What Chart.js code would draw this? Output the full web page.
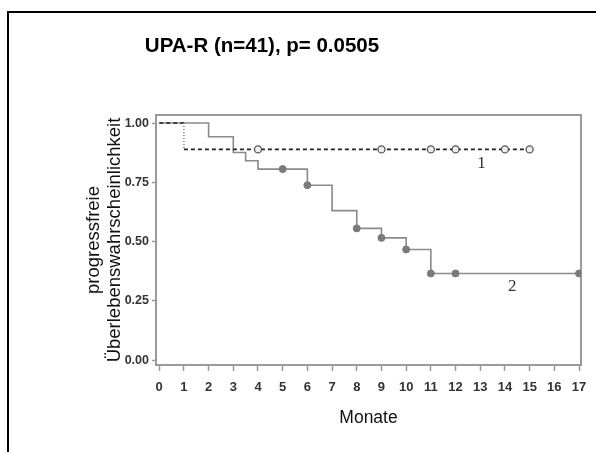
<!DOCTYPE html>
<html>
<head>
<meta charset="utf-8">
<script src="https://cdn.jsdelivr.net/npm/chart.js@4.4.1/dist/chart.umd.min.js"></script>
<style>
  html, body { margin: 0; padding: 0; background: #fff; }
  #wrap { width: 596px; height: 452px; }
</style>
</head>
<body>
<div id="wrap"><canvas id="plot"></canvas></div>
<script>
// Gruppe 1 (gestrichelt): Zeitpunkte der Stufen und Überlebensrate
const zeit1 = [0, 1, 15];
const surv1 = [1.0, 0.889, 0.889];
const zensiert1 = [4, 9, 11, 12, 14, 15];

// Gruppe 2 (durchgezogen)
const zeit2 = [0, 2, 3, 3.5, 4, 6, 7, 8, 9, 10, 11, 17];
const surv2 = [1.0, 0.942, 0.876, 0.841, 0.806, 0.738, 0.631, 0.556, 0.516, 0.467, 0.366, 0.366];
const zensiert2 = [5, 6, 8, 9, 10, 11, 12, 17];

const xTicks = [0, 1, 2, 3, 4, 5, 6, 7, 8, 9, 10, 11, 12, 13, 14, 15, 16, 17];
const yTicks = [0, 0.25, 0.5, 0.75, 1.0];

const titel = 'UPA-R (n=41), p= 0.0505';
const yTitel = ['progressfreie', 'Überlebenswahrscheinlichkeit'];
const xTitel = 'Monate';
const kurvenNamen = [
  { text: '1', x: 13.05, y: 0.83 },
  { text: '2', x: 14.3, y: 0.31 }
];

// Ecken der Treppenfunktion aus den Stufen bauen
let stufen = (zeit, surv) => {
  let pts = [];
  for (let i = 0; i < zeit.length; i++) {
    if (i > 0 && surv[i] !== surv[i - 1]) {
      pts.push({ x: zeit[i], y: surv[i - 1] });
    }
    pts.push({ x: zeit[i], y: surv[i] });
  }
  return pts;
};

// Wert der Kurve zum Zeitpunkt t
let wertBei = (zeit, surv, t) => {
  let v = surv[0];
  for (let i = 0; i < zeit.length; i++) {
    if (zeit[i] <= t) v = surv[i];
  }
  return v;
};

const grau = '#9a9a9a';

// Rahmen um das Diagramm und Titel
const rahmenPlugin = {
  id: 'rahmen',
  beforeDatasetsDraw(chart) {
    const { ctx, chartArea } = chart;
    ctx.save();
    ctx.strokeStyle = grau;
    ctx.lineWidth = 2;
    ctx.beginPath();
    ctx.moveTo(chartArea.left, chartArea.top);
    ctx.lineTo(chartArea.right, chartArea.top);
    ctx.lineTo(chartArea.right, chartArea.bottom);
    ctx.stroke();
    ctx.restore();
  },
  afterDraw(chart) {
    const { ctx, scales } = chart;
    ctx.save();
    // äußerer Rahmen
    ctx.strokeStyle = '#000';
    ctx.lineWidth = 2;
    ctx.beginPath();
    ctx.moveTo(8, 452);
    ctx.lineTo(8, 12);
    ctx.lineTo(596, 12);
    ctx.stroke();
    // Titel
    ctx.fillStyle = '#000';
    ctx.font = 'bold 20.5px "Liberation Sans", Arial, sans-serif';
    ctx.textAlign = 'center';
    ctx.textBaseline = 'middle';
    ctx.fillText(titel, 262, 46);
    // Kurvenbeschriftung
    ctx.font = '17px "Liberation Serif", "Times New Roman", serif';
    ctx.fillStyle = '#333';
    kurvenNamen.forEach(k => {
      ctx.fillText(k.text, scales.x.getPixelForValue(k.x), scales.y.getPixelForValue(k.y));
    });
    ctx.restore();
  }
};

let plotRef = document.getElementById('plot');

let config = {
  type: 'line',
  data: {
    datasets: [
      {
        label: 'Gruppe 1 zensiert',
        data: zensiert1.map(t => ({ x: t, y: wertBei(zeit1, surv1, t) })),
        showLine: false,
        pointRadius: 3.5,
        pointBackgroundColor: '#eee',
        pointBorderColor: '#555',
        pointBorderWidth: 1.3,
        order: 0
      },
      {
        label: 'Gruppe 1',
        data: stufen(zeit1, surv1),
        borderColor: '#222',
        borderWidth: 1.6,
        borderDash: [4, 3],
        pointRadius: 0,
        fill: false,
        segment: {
          borderColor: c => c.p0.parsed.x === c.p1.parsed.x ? '#888' : undefined,
          borderDash: c => c.p0.parsed.x === c.p1.parsed.x ? [1, 2] : undefined
        },
        order: 1
      },
      {
        label: 'Gruppe 2 zensiert',
        data: zensiert2.map(t => ({ x: t, y: wertBei(zeit2, surv2, t) })),
        showLine: false,
        pointRadius: 3.5,
        pointBackgroundColor: '#7a7a7a',
        pointBorderColor: '#7a7a7a',
        pointBorderWidth: 1,
        order: 2
      },
      {
        label: 'Gruppe 2',
        data: stufen(zeit2, surv2),
        borderColor: '#8a8a8a',
        borderWidth: 1.6,
        pointRadius: 0,
        fill: false,
        order: 3
      }
    ]
  },
  options: {
    responsive: true,
    maintainAspectRatio: false,
    animation: false,
    layout: { padding: { top: 115, right: 15, left: 0, bottom: 0 } },
    plugins: {
      legend: { display: false },
      tooltip: { enabled: false }
    },
    scales: {
      x: {
        type: 'linear',
        min: -0.13,
        max: 17.08,
        afterFit: s => { s.height = 87; },
        afterBuildTicks: s => { s.ticks = xTicks.map(v => ({ value: v })); },
        grid: { display: true, drawOnChartArea: false, drawTicks: true, tickLength: 6, tickColor: grau, tickWidth: 1.5 },
        border: { display: true, color: grau, width: 2 },
        ticks: {
          autoSkip: false,
          maxRotation: 0,
          padding: 9,
          color: '#333',
          font: { family: '"Liberation Sans", Arial, sans-serif', size: 13, weight: 'bold' }
        },
        title: {
          display: true,
          text: xTitel,
          color: '#111',
          font: { family: '"Liberation Sans", Arial, sans-serif', size: 17.5 },
          padding: { top: 0, bottom: 23 }
        }
      },
      y: {
        type: 'linear',
        min: -0.02,
        max: 1.034,
        afterFit: s => { s.width = 156; },
        afterBuildTicks: s => { s.ticks = yTicks.map(v => ({ value: v })); },
        grid: { display: true, drawOnChartArea: false, drawTicks: true, tickLength: 4, tickColor: grau, tickWidth: 1.5 },
        border: { display: true, color: grau, width: 2 },
        ticks: {
          padding: 3,
          color: '#333',
          font: { family: '"Liberation Sans", Arial, sans-serif', size: 12.5, weight: 'bold' },
          callback: v => v.toFixed(2)
        },
        title: {
          display: true,
          text: yTitel,
          color: '#111',
          font: { family: '"Liberation Sans", Arial, sans-serif', size: 18.5, lineHeight: 1.15 },
          padding: { top: 83, bottom: 0 }
        }
      }
    }
  },
  plugins: [rahmenPlugin]
};

let chart = new Chart(plotRef, config);
</script>
</body>
</html>
